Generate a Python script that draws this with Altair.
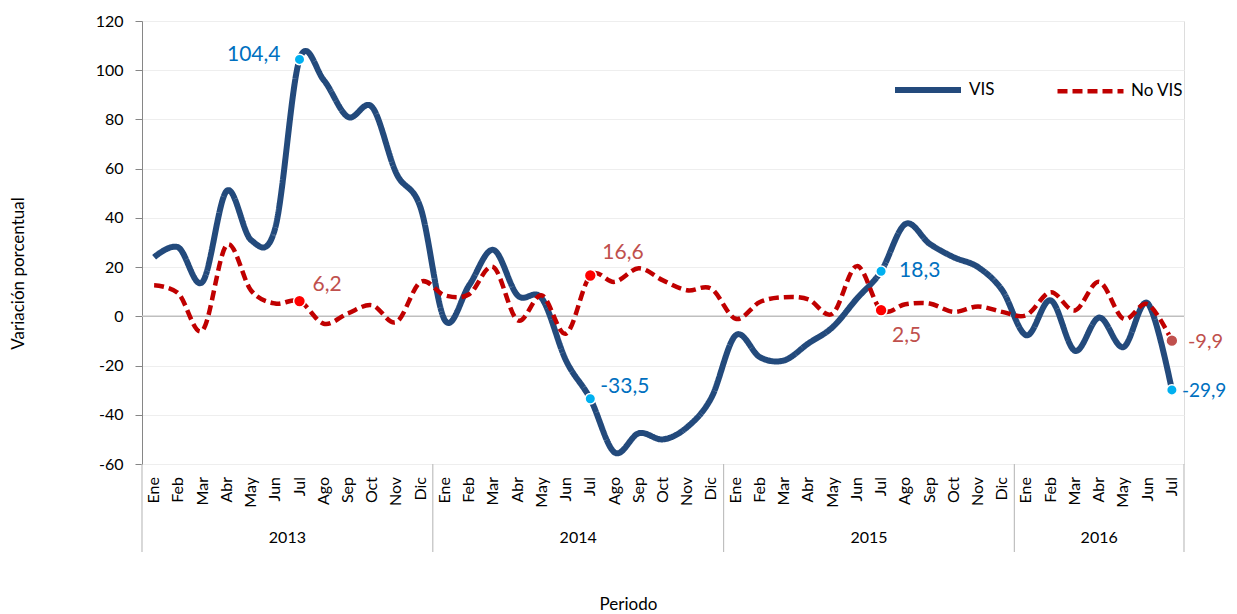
import altair as alt
import pandas as pd

months = ["Ene", "Feb", "Mar", "Abr", "May", "Jun", "Jul", "Ago", "Sep", "Oct", "Nov", "Dic"]
years = ["2013", "2014", "2015", "2016"]
year_counts = [12, 12, 12, 7]

vis = [24, 28, 14, 51, 31, 36, 104.4, 96, 81, 85, 58, 44,
       -1.6, 12.6, 27, 8.5, 7.3, -18, -33.5, -55.3, -47.5, -50, -45, -33,
       -7.7, -16.6, -17.9, -11, -4.4, 7.2, 18.3, 37.5, 29.5, 24, 20, 10.6,
       -7.7, 6.5, -14, -0.5, -12.5, 5.3, -29.9]
novis = [12.6, 9.3, -5.7, 29, 10.5, 5.2, 6.2, -3, 1.2, 4.5, -2.3, 14,
         8.5, 9, 20, -1.6, 8.5, -7, 16.6, 14, 19.5, 14.6, 10.6, 11.2,
         -1, 5.8, 7.8, 6.9, 1.1, 20.4, 2.5, 4.9, 5.2, 1.8, 4, 1.8,
         0.5, 9.8, 2.4, 14, -1, 5, -9.9]

series_names = ["VIS", "No VIS"]
highlight_idx = [6, 18, 30, 42]

FONT = "Lato"
n = len(vis)
idx = list(range(n))
month_of = [months[i % 12] for i in idx]

rows = []
for i in idx:
    rows.append({"i": i, "serie": "VIS", "v": vis[i]})
for i in idx:
    rows.append({"i": i, "serie": "No VIS", "v": novis[i]})
df = pd.DataFrame(rows)

xscale = alt.Scale(domain=[-0.5, n - 0.5], nice=False, zero=False)
yscale = alt.Scale(domain=[-60, 120], nice=False)

x_axis = alt.Axis(
    labels=False, domain=False, ticks=False, grid=False,
    title="Periodo", titleX=486, titleY=140, titleBaseline="middle", titleAlign="center",
    titleFont=FONT, titleFontSize=17, titleFontWeight="normal", titleColor="#000000",
)
y_axis = alt.Axis(
    values=list(range(-60, 121, 20)), labelExpr="'' + datum.value", grid=True, gridColor="#EEEEEE",
    domainColor="#868686", tickColor="#868686", tickSize=7, labelPadding=12,
    labelFont=FONT, labelFontSize=16, labelColor="#000000",
    title="Variación porcentual", titleX=-124, titleY=252, titleAngle=270,
    titleBaseline="middle", titleAlign="center",
    titleFont=FONT, titleFontSize=17, titleFontWeight="normal", titleColor="#000000",
)

base_axes = alt.Chart(df).mark_point(opacity=0).encode(
    x=alt.X("i:Q", scale=xscale, axis=x_axis),
    y=alt.Y("v:Q", scale=yscale, axis=y_axis),
)

zero = alt.Chart(pd.DataFrame({"z": [0]})).mark_rule(color="#BFBFBF", strokeWidth=1.5).encode(
    y=alt.Y("z:Q", scale=yscale)
)

# month labels (rotated) below plot
month_text = alt.Chart(pd.DataFrame({"i": idx, "m": month_of})).mark_text(
    font=FONT, fontSize=16, color="#000000", angle=270, align="right", baseline="middle"
).encode(x=alt.X("i:Q", scale=xscale), y=alt.value(456), text="m:N")

# year group separators and labels
bounds = [-0.5]
acc = -0.5
mids = []
for c in year_counts:
    mids.append(acc + c / 2)
    acc += c
    bounds.append(acc)
sep = alt.Chart(pd.DataFrame({"b": bounds})).mark_rule(color="#BFBFBF", strokeWidth=1.2).encode(
    x=alt.X("b:Q", scale=xscale), y=alt.value(443), y2=alt.value(531)
)
year_text = alt.Chart(pd.DataFrame({"m": mids, "year": years})).mark_text(
    font=FONT, fontSize=16, color="#000000", baseline="middle"
).encode(x=alt.X("m:Q", scale=xscale), y=alt.value(517), text="year:N")

leg = dict(title=None, orient="none", legendX=750, legendY=33,
           direction="horizontal", symbolSize=4356, symbolStrokeWidth=6,
           labelFont=FONT, labelFontSize=17, labelColor="#000000",
           labelOffset=5, columnPadding=53, padding=0)

lines = alt.Chart(df).mark_line(interpolate="cardinal", tension=0).encode(
    x=alt.X("i:Q", scale=xscale),
    y=alt.Y("v:Q", scale=yscale),
    color=alt.Color("serie:N", scale=alt.Scale(domain=series_names, range=["#234A7C", "#C00000"]),
                    legend=alt.Legend(**leg)),
    strokeDash=alt.StrokeDash("serie:N", scale=alt.Scale(domain=series_names, range=[[1, 0], [10, 5]]),
                              legend=alt.Legend(**leg)),
    strokeWidth=alt.StrokeWidth("serie:N", scale=alt.Scale(domain=series_names, range=[6, 4.5]), legend=None),
    order=alt.Order("i:Q"),
)

# highlighted points
pts_rows = []
vis_pt_col = ["#00B0F0"] * 4
nov_pt_col = ["#FF0000", "#FF0000", "#FF0000", "#C0504D"]
for k, i in enumerate(highlight_idx):
    pts_rows.append({"i": i, "v": vis[i], "c": vis_pt_col[k], "s": 110})
    pts_rows.append({"i": i, "v": novis[i], "c": nov_pt_col[k], "s": 140})
pts = alt.Chart(pd.DataFrame(pts_rows)).mark_point(filled=True, opacity=1, stroke="white", strokeWidth=1.5).encode(
    x=alt.X("i:Q", scale=xscale), y=alt.Y("v:Q", scale=yscale),
    fill=alt.Fill("c:N", scale=None), size=alt.Size("s:Q", scale=None),
)

# data labels: (series values, index, color, align, dx, dy, font size)
label_specs = [
    (vis, 6, "#0070C0", "right", -19, -4, 21),
    (novis, 6, "#C0504D", "left", 13, -16, 21),
    (novis, 18, "#C0504D", "left", 12, -22, 21),
    (vis, 18, "#0070C0", "left", 10, -12, 21),
    (vis, 30, "#0070C0", "left", 18, 0, 21),
    (novis, 30, "#C0504D", "left", 11, 26, 21),
    (novis, 42, "#C0504D", "left", 16, 1, 20),
    (vis, 42, "#0070C0", "left", 10, 1, 19),
]
label_layers = []
for vals, i, col, al, dx, dy, fs in label_specs:
    d = pd.DataFrame({"i": [i], "v": [vals[i]], "t": [f"{vals[i]:.1f}".replace(".", ",")]})
    label_layers.append(
        alt.Chart(d).mark_text(font=FONT, fontSize=fs, color=col, align=al, baseline="middle", dx=dx, dy=dy)
        .encode(x=alt.X("i:Q", scale=xscale), y=alt.Y("v:Q", scale=yscale), text="t:N")
    )

chart = alt.layer(base_axes, zero, sep, month_text, year_text, lines, pts, *label_layers).properties(
    width=1042, height=443,
    autosize=alt.AutoSizeParams(type="none"),
    padding={"left": 134, "top": 13, "right": 45, "bottom": 150},
).configure_view(stroke=None).configure(background="white")

chart.save("out.html", embed_options={"renderer": "svg", "actions": False})
